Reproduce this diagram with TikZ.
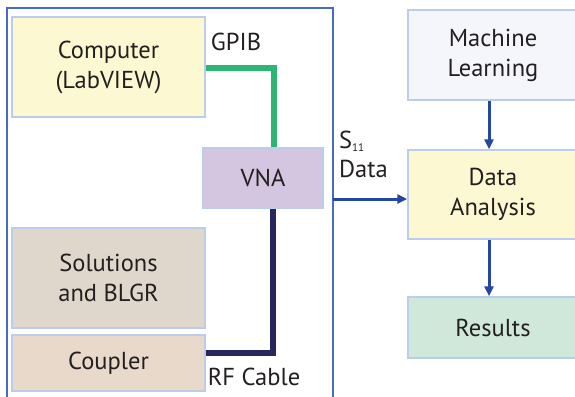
\documentclass[tikz,border=0pt]{standalone}
\usepackage{fontspec}
\setmainfont{PT Sans}
\usetikzlibrary{arrows.meta}
\definecolor{txt}{HTML}{231F20}
\definecolor{bord}{HTML}{BCCDEB}
\definecolor{frame}{HTML}{4A6BBF}
\definecolor{fcomp}{HTML}{FBF8D2}
\definecolor{fvna}{HTML}{D4C6E1}
\definecolor{fsol}{HTML}{DFD7CB}
\definecolor{fcoup}{HTML}{E9D9CB}
\definecolor{fml}{HTML}{F4F6FC}
\definecolor{fres}{HTML}{D0E8DA}
\definecolor{gpibc}{HTML}{2DB572}
\definecolor{rfc}{HTML}{27265F}
\definecolor{arr}{HTML}{2447A0}
\begin{document}
\begin{tikzpicture}[x=1pt,y=-1pt,
  box/.style={draw=bord,line width=1.5pt,inner sep=0pt,align=center,text=txt,
    font=\fontsize{24.5}{30}\selectfont},
  lbl/.style={text=txt,font=\fontsize{24.5}{30}\selectfont,inner sep=0pt},
  flow/.style={draw=arr,line width=3pt,-{Triangle[length=10pt,width=9pt]}}]
\useasboundingbox (0,0) rectangle (575,396);
\clip (0,0) rectangle (575,396);
\fill[white] (0,0) rectangle (575,396);
% frame
\draw[frame,line width=1.3pt] (7,8) rectangle (333,430);
% left boxes
\node[box,fill=fcomp,minimum width=193pt,minimum height=100pt] (comp) at (108.5,67) {Computer\\(LabVIEW)};
\node[box,fill=fvna,minimum width=120pt,minimum height=60pt] (vna) at (263,178) {VNA};
\node[box,fill=fsol,minimum width=193pt,minimum height=100pt] (sol) at (108.5,278) {Solutions\\and BLGR};
\node[box,fill=fcoup,minimum width=193pt,minimum height=56pt] (coup) at (108.5,363) {Coupler};
% right boxes
\node[box,fill=fml,minimum width=170pt,minimum height=90pt] (ml) at (493,55) {Machine\\Learning};
\node[box,fill=fcomp,minimum width=170pt,minimum height=89pt] (da) at (493,194.5) {Data\\Analysis};
\node[box,fill=fres,minimum width=170pt,minimum height=61pt] (res) at (493,327.5) {Results};
% cables
\draw[gpibc,line width=6.5pt] (comp.east |- 0,68) -| ([xshift=11pt]vna.north);
\draw[rfc,line width=6.5pt] (coup.east |- 0,353) -| ([xshift=10pt]vna.south);
\node[lbl] (gpib) at (236,42) {GPIB};
\node[lbl] (rf) at (254,377) {RF Cable};
% data flow
\coordinate (s11) at (333,199);
\draw[flow] (s11) -- (s11 -| da.west);
\node[lbl,anchor=base west] (s11t) at (339,148) {S\textsubscript{\fontsize{11}{11}\selectfont 11}};
\node[lbl,anchor=base west] (datat) at (339,177) {Data};
\draw[flow] ([xshift=-4pt]ml.south) -- ([xshift=-4pt]da.north);
\draw[flow] ([xshift=-4pt]da.south) -- ([xshift=-4pt]res.north);
\end{tikzpicture}
\end{document}
